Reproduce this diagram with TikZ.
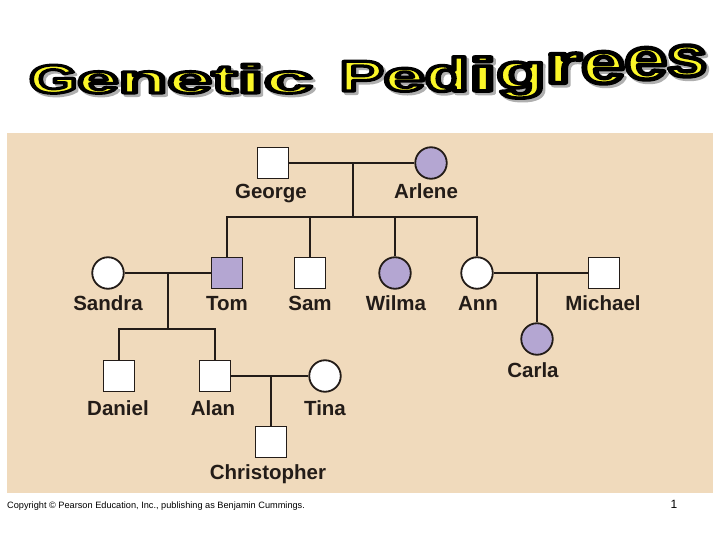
\documentclass[tikz,border=0pt]{standalone}
\usepackage{fontspec}
\setmainfont{Liberation Sans}
\newfontfamily\titlefont{Liberation Sans}
\usepackage{graphicx}
\definecolor{panel}{RGB}{240,218,188}
\definecolor{purp}{RGB}{180,166,210}
\definecolor{lc}{RGB}{35,28,24}
\definecolor{wayellow}{RGB}{250,246,40}
\definecolor{wshade}{RGB}{175,175,175}
\tikzset{
  sq/.style={rectangle, draw=lc, line width=1.8pt, fill=white, minimum size=31pt, inner sep=0pt},
  ci/.style={circle, draw=lc, line width=1.8pt, fill=white, minimum size=31.5pt, inner sep=0pt},
  aff/.style={fill=purp},
  lbl/.style={anchor=base, inner sep=0pt, text=lc, font=\bfseries\fontsize{20.5}{20.5}\selectfont},
  link/.style={draw=lc, line width=1.8pt},
  wword/.style={anchor=base west, inner sep=0pt, font=\titlefont\bfseries\fontsize{40}{40}\selectfont}
}
% current fill colour name and outline colour (PDF RG operands)
\def\wfillc{wayellow}
\def\wstrokec{0 0 0}
% one scaled, raised, outlined letter: xscale, yscale, raise, letter
\newcommand\wl[4]{\raisebox{#3pt}{\scalebox{#1}[#2]{%
  \special{pdf:literal direct q 2 Tr 3 w 1 j}%
  \textcolor{\wfillc}{\special{pdf:literal direct \wstrokec\space RG}#4}%
  \special{pdf:literal direct Q}}}}
\newcommand\genword{\wl{1.55}{1}{0}{G}\wl{1.85}{1}{0}{e}\wl{2.0}{1}{0}{n}\wl{2.0}{1}{0}{e}\wl{1.9}{1}{0}{t}\wl{2.4}{1}{0}{i}\wl{2.2}{1}{0}{c}}
\newcommand\pedword{\wl{1.65}{1.08}{0}{P}\wl{1.85}{1.06}{0}{e}\wl{1.8}{1.18}{0}{d}\wl{2.5}{1.18}{0}{i}\wl{2.0}{1.2}{3}{g}\wl{2.3}{1.38}{8}{r}\wl{1.95}{1.45}{8}{e}\wl{1.9}{1.45}{12}{e}\wl{1.8}{1.42}{15}{s}}
\begin{document}
\begin{tikzpicture}[x=1pt,y=-1pt]
\useasboundingbox (0,0) rectangle (720,540);
\fill[white] (0,0) rectangle (720,540);
\fill[panel] (7,133) rectangle (713,493);

% title (WordArt): grey drop shadow, then yellow letters outlined in black
\node[wword] (genshadow) at (31.5,95.5) {\def\wfillc{wshade}\def\wstrokec{0.686 0.686 0.686}\genword};
\node[wword] (genetic) at (29,93) {\genword};
\node[wword] (pedshadow) at (342,93.5) {\def\wfillc{wshade}\def\wstrokec{0.686 0.686 0.686}\pedword};
\node[wword] (pedigrees) at (339.5,91) {\pedword};

% individuals
\node[sq] (george) at (273,163) {};
\node[ci,aff] (arlene) at (431,163) {};
\node[ci] (sandra) at (108,273) {};
\node[sq,aff] (tom) at (227,273) {};
\node[sq] (sam) at (310,273) {};
\node[ci,aff] (wilma) at (395,273) {};
\node[ci] (ann) at (477,273) {};
\node[sq] (michael) at (604,273) {};
\node[ci,aff] (carla) at (537,339) {};
\node[sq] (daniel) at (119,376) {};
\node[sq] (alan) at (215,376) {};
\node[ci] (tina) at (325,376) {};
\node[sq] (chris) at (271,442) {};

% junction points
\coordinate (m1) at (353,163);
\coordinate (s1) at (353,217);
\coordinate (m2) at (168,273);
\coordinate (s2) at (168,329);
\coordinate (m3) at (537,273);
\coordinate (m4) at (271,376);

% connectors
\draw[link] (george) -- (arlene);
\draw[link] (m1) -- (s1);
\draw[link, line cap=rect] (tom |- s1) -- (ann |- s1);
\foreach \n in {tom,sam,wilma,ann} \draw[link] (\n |- s1) -- (\n);
\draw[link] (sandra) -- (tom);
\draw[link] (m2) -- (s2);
\draw[link, line cap=rect] (daniel |- s2) -- (alan |- s2);
\draw[link] (daniel |- s2) -- (daniel);
\draw[link] (alan |- s2) -- (alan);
\draw[link] (ann) -- (michael);
\draw[link] (m3) -- (carla);
\draw[link] (alan) -- (tina);
\draw[link] (m4) -- (chris);

% labels
\node[lbl] (lgeorge) at (271,199) {George};
\node[lbl] (larlene) at (426,199) {Arlene};
\node[lbl] (lsandra) at (108,310) {Sandra};
\node[lbl] (ltom) at (227,310) {Tom};
\node[lbl] (lsam) at (310,310) {Sam};
\node[lbl] (lwilma) at (396,310) {Wilma};
\node[lbl] (lann) at (478,310) {Ann};
\node[lbl] (lmichael) at (603,310) {Michael};
\node[lbl] (lcarla) at (533,377) {Carla};
\node[lbl] (ldaniel) at (118,415) {Daniel};
\node[lbl] (lalan) at (213,415) {Alan};
\node[lbl] (ltina) at (325,415) {Tina};
\node[lbl] (lchris) at (268,479) {Christopher};

% footer
\node[anchor=base west, inner sep=0pt, font=\fontsize{9.2}{9.2}\selectfont] (copy) at (7,508) {Copyright © Pearson Education, Inc., publishing as Benjamin Cummings.};
\node[anchor=base, inner sep=0pt, font=\fontsize{12}{12}\selectfont] (pnum) at (674,508) {1};
\end{tikzpicture}
\end{document}
